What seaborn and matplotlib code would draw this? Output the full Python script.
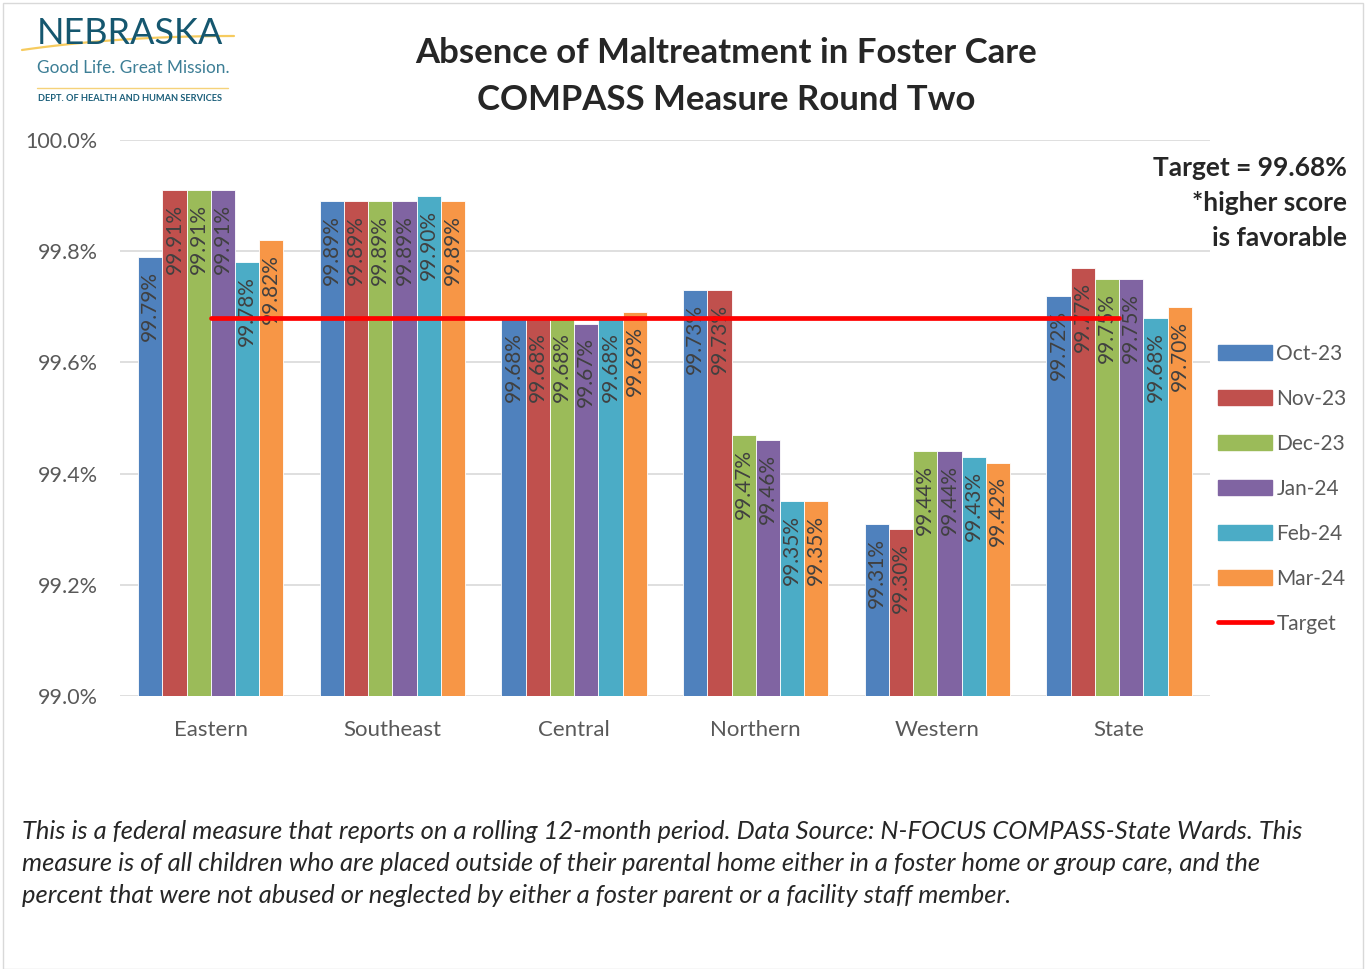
import numpy as np
import pandas as pd
import matplotlib.pyplot as plt
import seaborn as sns
from matplotlib.patches import Rectangle
from matplotlib.lines import Line2D
import matplotlib.patches as mpatches

# Data
regions = ["Eastern", "Southeast", "Central", "Northern", "Western", "State"]
months = ["Oct-23", "Nov-23", "Dec-23", "Jan-24", "Feb-24", "Mar-24"]
oct_23 = [99.79, 99.89, 99.68, 99.73, 99.31, 99.72]
nov_23 = [99.91, 99.89, 99.68, 99.73, 99.30, 99.77]
dec_23 = [99.91, 99.89, 99.68, 99.47, 99.44, 99.75]
jan_24 = [99.91, 99.89, 99.67, 99.46, 99.44, 99.75]
feb_24 = [99.78, 99.90, 99.68, 99.35, 99.43, 99.68]
mar_24 = [99.82, 99.89, 99.69, 99.35, 99.42, 99.70]
target = [99.68] * len(regions)
yticks = [99.0, 99.2, 99.4, 99.6, 99.8, 100.0]

colors = ["#4F81BD", "#C0504D", "#9BBB59", "#8064A2", "#4BACC6", "#F79646"]
grey = "#595959"


def main():
    sns.set_style("white")
    plt.rcParams["font.family"] = ["Lato", "DejaVu Sans"]

    series = [oct_23, nov_23, dec_23, jan_24, feb_24, mar_24]
    rows = []
    for m, vals in zip(months, series):
        for r, v in zip(regions, vals):
            rows.append({"Region": r, "Month": m, "Value": v})
    df = pd.DataFrame(rows)

    fig = plt.figure(figsize=(13.66, 9.69), dpi=100)
    ax = fig.add_axes([0.0878, 0.2817, 0.798, 0.5738])

    sns.barplot(data=df, x="Region", y="Value", hue="Month", order=regions,
                hue_order=months, palette=colors, saturation=1, width=0.8,
                gap=0, edgecolor="white", linewidth=0.6, ax=ax, legend=False)

    # data labels inside the top of each bar
    for cont in ax.containers:
        for bar in cont:
            h = bar.get_height()
            ax.annotate(f"{h:.2f}%", (bar.get_x() + bar.get_width() / 2, h),
                        xytext=(0, -10), textcoords="offset points",
                        rotation=90, ha="center", va="top",
                        fontsize=15, color="#404040", zorder=4)

    ax.plot(range(len(regions)), target, color="#FF0000", lw=3.4,
            solid_capstyle="round", zorder=5)

    ax.set_ylim(99.0, 100.0)
    ax.set_xlim(-0.5, len(regions) - 0.5)
    ax.set_yticks(yticks)
    ax.set_yticklabels([f"{t:.1f}%" for t in yticks], fontsize=15.5, color=grey)
    ax.tick_params(axis="x", labelsize=16, colors=grey, length=0, pad=17)
    ax.tick_params(axis="y", length=0, pad=16)
    ax.set_xlabel("")
    ax.set_ylabel("")
    ax.grid(axis="y", color="#D9D9D9", lw=1.2)
    ax.set_axisbelow(True)
    for s in ax.spines.values():
        s.set_visible(False)

    handles = [mpatches.Patch(color=c, label=m) for c, m in zip(colors, months)]
    handles.append(Line2D([0], [0], color="#FF0000", lw=3.4,
                          solid_capstyle="round", label="Target"))
    leg = ax.legend(handles=handles, loc="upper left",
                    bbox_to_anchor=(0.994, 0.66), frameon=False,
                    fontsize=15, handlelength=2.6, handleheight=0.7,
                    labelspacing=1.2, handletextpad=0.2, borderaxespad=0.3)
    for t in leg.get_texts():
        t.set_color(grey)

    fig.text(0.5315, 0.945, "Absence of Maltreatment in Foster Care",
             ha="center", va="center", fontsize=25, fontweight="bold")
    fig.text(0.5315, 0.897, "COMPASS Measure Round Two",
             ha="center", va="center", fontsize=25, fontweight="bold")

    fig.text(0.986, 0.79, "Target = 99.68%\n*higher score\nis favorable",
             ha="right", va="center", fontsize=19, fontweight="bold",
             linespacing=1.55)

    note = ("This is a federal measure that reports on a rolling 12-month period. "
            "Data Source: N-FOCUS COMPASS-State Wards. This\n"
            "measure is of all children who are placed outside of their parental "
            "home either in a foster home or group care, and the\n"
            "percent that were not abused or neglected by either a foster parent "
            "or a facility staff member.")
    fig.text(0.016, 0.109, note, ha="left", va="center", fontsize=18.4,
             style="italic", linespacing=1.47)

    # logo
    fig.text(0.027, 0.965, "NEBRASKA", ha="left", va="center", fontsize=26,
             color="#15576F")
    t = np.linspace(0, 1, 50)
    px = (1 - t) ** 2 * 22 + 2 * (1 - t) * t * 120 + t ** 2 * 234
    py = (1 - t) ** 2 * 50 + 2 * (1 - t) * t * 36 + t ** 2 * 36
    fig.add_artist(Line2D(px / 1366, 1 - py / 969, color="#F6C64E", lw=1.6,
                          alpha=0.9))
    fig.text(0.027, 0.930, "Good Life. Great Mission.", ha="left", va="center",
             fontsize=12.4, color="#3D7F96")
    fig.add_artist(Line2D([0.027, 0.167], [0.909, 0.909], color="#F5D27A", lw=1))
    fig.text(0.028, 0.898, "DEPT. OF HEALTH AND HUMAN SERVICES", ha="left",
             va="center", fontsize=6.7, color="#1B5F7A", fontweight="bold")

    fig.add_artist(Rectangle((0.002, 0.0), 0.996, 0.997, transform=fig.transFigure,
                             fill=False, edgecolor="#D9D9D9", lw=1))

    fig.savefig("out.png", dpi=100, facecolor="white")
    plt.close(fig)


if __name__ == "__main__":
    main()
